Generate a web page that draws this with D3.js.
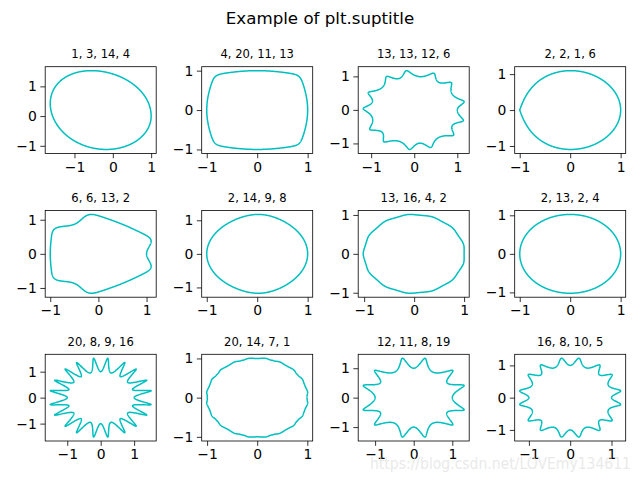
<!DOCTYPE html>
<html><head><meta charset="utf-8">
<script src="https://cdn.jsdelivr.net/npm/d3@7"></script>
<style>
body{margin:0;background:#fff}
text{font-family:"DejaVu Sans",sans-serif}
</style>
</head><body>
<svg id="chart" width="640" height="480"></svg>
<script>
// Superformula parameters (m, n1, n2, n3)
const mVals  = [1, 4, 13, 2, 6, 2, 13, 2, 20, 20, 12, 16];
const n1Vals = [3, 20, 13, 2, 6, 14, 16, 13, 8, 14, 11, 8];
const n2Vals = [14, 11, 12, 1, 13, 9, 4, 2, 9, 7, 8, 10];
const n3Vals = [4, 13, 6, 6, 2, 8, 2, 4, 16, 1, 19, 5];
const tickValues = [-1, 0, 1];
const suptitle = "Example of plt.suptitle";
const watermark = "https://blog.csdn.net/LOVEmy134611";
const nPts = 1000;

const svg = d3.select("#chart");
const W = 111, H = 86.7;
const lefts = [45.2, 201.7, 358.2, 514.7];
const tops = [66.7, 210.5, 354.3];
const color = "#00bfbf";
const fmt = d => d < 0 ? "\u2212" + Math.abs(d) : String(d);

svg.append("text").attr("x", 320).attr("y", 24).attr("text-anchor", "middle")
  .attr("font-size", "16.67px").attr("fill", "#000").text(suptitle);

function curve(m, n1, n2, n3) {
  const pts = [];
  for (let i = 0; i < nPts; i++) {
    const phi = 2 * Math.PI * i / (nPts - 1);
    const t = 0.25 * m * phi;
    const c = Math.pow(Math.abs(Math.cos(t)), n2);
    const s = Math.pow(Math.abs(Math.sin(t)), n3);
    const r = Math.pow(c + s, -1 / n1);
    pts.push([r * Math.cos(phi), r * Math.sin(phi)]);
  }
  return pts;
}

mVals.forEach((m, i) => {
  const col = i % 4, row = Math.floor(i / 4);
  const x0 = lefts[col], y0 = tops[row];
  const pts = curve(m, n1Vals[i], n2Vals[i], n3Vals[i]);
  const xe = d3.extent(pts, p => p[0]), ye = d3.extent(pts, p => p[1]);
  const px = (xe[1] - xe[0]) * 0.05, py = (ye[1] - ye[0]) * 0.05;
  const x = d3.scaleLinear().domain([xe[0] - px, xe[1] + px]).range([0, W]);
  const y = d3.scaleLinear().domain([ye[0] - py, ye[1] + py]).range([H, 0]);
  const g = svg.append("g").attr("transform", `translate(${x0},${y0})`);
  const clipId = "clip" + i;
  g.append("clipPath").attr("id", clipId).append("rect").attr("width", W).attr("height", H);
  g.append("path").datum(pts).attr("clip-path", `url(#${clipId})`)
    .attr("fill", "none").attr("stroke", color).attr("stroke-width", 1.5)
    .attr("stroke-linejoin", "round")
    .attr("d", d3.line().x(p => x(p[0])).y(p => y(p[1])));
  g.append("rect").attr("width", W).attr("height", H).attr("fill", "none")
    .attr("stroke", "#000").attr("stroke-width", 0.8);
  const xa = g.append("g").attr("transform", `translate(0,${H})`)
    .call(d3.axisBottom(x).tickValues(tickValues).tickFormat(fmt).tickSizeInner(4.86).tickSizeOuter(0).tickPadding(3.5));
  const ya = g.append("g")
    .call(d3.axisLeft(y).tickValues(tickValues).tickFormat(fmt).tickSizeInner(4.86).tickSizeOuter(0).tickPadding(3.5));
  [xa, ya].forEach(a => {
    a.select(".domain").remove();
    a.selectAll("line").attr("stroke-width", 0.8);
    a.selectAll("text").attr("font-size", "13.9px").attr("font-family", "DejaVu Sans, sans-serif").attr("fill", "#000");
  });
  g.append("text").attr("x", W / 2).attr("y", -8.3).attr("text-anchor", "middle")
    .attr("font-size", "11.57px").attr("fill", "#000")
    .text(`${m}, ${n1Vals[i]}, ${n2Vals[i]}, ${n3Vals[i]}`);
});

svg.append("text").attr("x", 370).attr("y", 469).attr("font-size", "15px")
  .attr("font-family", "Arial, Liberation Sans, sans-serif")
  .attr("textLength", 261).attr("lengthAdjust", "spacingAndGlyphs")
  .attr("fill", "#e2e2e2").attr("fill-opacity", 0.75).text(watermark);
</script>
</body></html>
